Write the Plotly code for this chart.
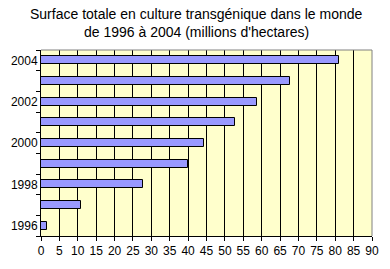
import plotly.graph_objects as go

years = [1996, 1997, 1998, 1999, 2000, 2001, 2002, 2003, 2004]
values = [1.7, 11.0, 27.8, 39.9, 44.2, 52.8, 58.7, 67.7, 81.0]
year_labels = [1996, 1998, 2000, 2002, 2004]
x_ticks = list(range(0, 95, 5))
title_lines = ["Surface totale en culture transgénique dans le monde",
               "de 1996 à 2004 (millions d'hectares)"]

fig = go.Figure()
fig.add_trace(go.Bar(
    x=values, y=years, orientation="h", width=0.4,
    marker=dict(color="#9999FF", line=dict(color="black", width=1)),
    hoverinfo="x+y",
))

font = dict(family="Liberation Sans, Arial, sans-serif", color="black")

fig.update_layout(
    width=390, height=269,
    margin=dict(l=41, r=11, t=50, b=31),
    paper_bgcolor="white",
    plot_bgcolor="#FFFFCC",
    showlegend=False,
    font=dict(size=12, **font),
    bargap=0,
)

plot_h = 269 - 50 - 31
plot_w = 390 - 41 - 11
for text, yc in zip(title_lines, [14, 32]):
    fig.add_annotation(
        text=text, showarrow=False, xref="paper", yref="paper",
        x=(200 - 41) / plot_w, y=(269 - 31 - yc) / plot_h,
        xanchor="center", yanchor="middle",
        font=dict(size=14, **font),
    )

fig.update_xaxes(
    range=[0, 90], tickvals=x_ticks, ticktext=[str(v) for v in x_ticks],
    showgrid=True, gridcolor="black", gridwidth=1,
    showline=True, linecolor="black", linewidth=1,
    ticks="outside", ticklen=4, tickcolor="black",
    zeroline=False, tickfont=dict(size=12, **font),
)
fig.update_yaxes(
    range=[1995.5, 2004.5], tickvals=year_labels,
    ticktext=[str(v) for v in year_labels],
    showgrid=False, showline=True, linecolor="black", linewidth=1,
    ticks="", zeroline=False,
    minor=dict(tick0=1995.5, dtick=1, ticks="outside", ticklen=4,
               tickcolor="black", showgrid=False),
    tickfont=dict(size=12, **font),
)

# gray plot-area border on top and right
fig.add_shape(type="line", xref="paper", yref="paper", x0=0, x1=1, y0=1, y1=1,
              line=dict(color="#808080", width=1))
fig.add_shape(type="line", xref="paper", yref="paper", x0=1, x1=1, y0=0, y1=1,
              line=dict(color="#808080", width=1))

fig.write_html("out.html")
